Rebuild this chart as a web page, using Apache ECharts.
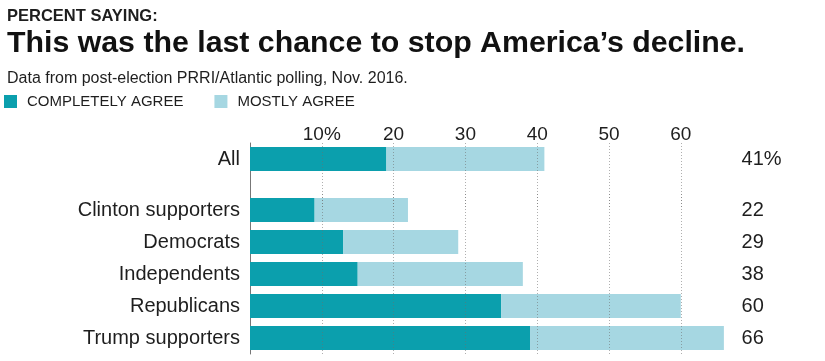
<!DOCTYPE html>
<html>
<head>
<meta charset="utf-8">
<style>
  html, body { margin: 0; padding: 0; background: #fff; }
  #chart { width: 825px; height: 361px; }
</style>
<script src="https://cdn.jsdelivr.net/npm/echarts@6/dist/echarts.min.js"></script>
</head>
<body>
<div id="chart"></div>
<script>
// ---- data ----
const categories = ['All', 'Clinton supporters', 'Democrats', 'Independents', 'Republicans', 'Trump supporters'];
const completelyAgree = [19, 9, 13, 15, 35, 39];
const mostlyAgree = [22, 13, 16, 23, 25, 27];
const tickLabels = { 10: '10%', 20: '20', 30: '30', 40: '40', 50: '50', 60: '60' };
const seriesNames = ['COMPLETELY AGREE', 'MOSTLY AGREE'];

const totals = completelyAgree.map((v, i) => v + mostlyAgree[i]);
const totalLabels = totals.map((v, i) => i === 0 ? v + '%' : String(v));

const FONT = '"Liberation Sans", Arial, sans-serif';
const DARK = '#0b9fad';
const LIGHT = '#a6d7e2';
const TEXT = '#1e1e1e';

const chart = echarts.init(document.getElementById('chart'), null, { renderer: 'canvas' });

const gridLineStyle = { type: [1, 2], color: 'rgba(110,110,110,0.55)', width: 1 };

const xAxisBase = {
  type: 'value', min: 0, max: 70, interval: 10,
  axisLine: { show: false }, axisTick: { show: false },
  splitLine: { show: true, showMinLine: false, showMaxLine: false, lineStyle: gridLineStyle },
  z: 3
};

const option = {
  backgroundColor: '#fff',
  animation: false,
  textStyle: { fontFamily: FONT },
  title: [
    { text: 'PERCENT SAYING:', left: 2, top: 3,
      textStyle: { fontFamily: FONT, fontSize: 16.5, fontWeight: 'bold', color: TEXT } },
    { text: 'This was the last chance to stop America\u2019s decline.', left: 2, top: 24,
      textStyle: { fontFamily: FONT, fontSize: 30.3, fontWeight: 'bold', color: '#111' } },
    { text: 'Data from post-election PRRI/Atlantic polling, Nov. 2016.', left: 2, top: 66,
      textStyle: { fontFamily: FONT, fontSize: 16, fontWeight: 'normal', color: TEXT } }
  ],
  legend: {
    left: 4, top: 94, padding: 0,
    itemWidth: 13, itemHeight: 13, itemGap: 31,
    icon: 'rect',
    data: seriesNames,
    textStyle: { fontFamily: FONT, fontSize: 15, color: TEXT, padding: [0, 0, 0, 5] },
    selectedMode: false
  },
  grid: [
    { left: 250, top: 143, width: 502.6, height: 64 },
    { left: 250, top: 194, width: 502.6, height: 160 }
  ],
  xAxis: [
    Object.assign({}, xAxisBase, {
      gridIndex: 0, position: 'top',
      axisLabel: {
        show: true, margin: -1, fontSize: 19, color: TEXT, fontFamily: FONT,
        formatter: v => tickLabels[v] || ''
      }
    }),
    Object.assign({}, xAxisBase, { gridIndex: 1, axisLabel: { show: false } })
  ],
  yAxis: [
    { type: 'category', gridIndex: 0, inverse: true, data: [categories[0], ''],
      axisLine: { show: true, lineStyle: { color: '#777', width: 1 } },
      axisTick: { show: false },
      axisLabel: { fontSize: 20, color: TEXT, margin: 10, fontFamily: FONT } },
    { type: 'category', gridIndex: 1, inverse: true, data: categories.slice(1),
      axisLine: { show: true, lineStyle: { color: '#777', width: 1 } },
      axisTick: { show: false },
      axisLabel: { fontSize: 20, color: TEXT, margin: 10, fontFamily: FONT } },
    { type: 'category', gridIndex: 0, inverse: true, position: 'right', data: [totalLabels[0], ''],
      axisLine: { show: false }, axisTick: { show: false },
      axisLabel: { fontSize: 20, color: TEXT, margin: -11, align: 'left', fontFamily: FONT } },
    { type: 'category', gridIndex: 1, inverse: true, position: 'right', data: totalLabels.slice(1),
      axisLine: { show: false }, axisTick: { show: false },
      axisLabel: { fontSize: 20, color: TEXT, margin: -11, align: 'left', fontFamily: FONT } }
  ],
  series: [
    { name: seriesNames[0], type: 'bar', stack: 'top', xAxisIndex: 0, yAxisIndex: 0,
      barWidth: 24, itemStyle: { color: DARK }, data: [completelyAgree[0], '-'] },
    { name: seriesNames[1], type: 'bar', stack: 'top', xAxisIndex: 0, yAxisIndex: 0,
      barWidth: 24, itemStyle: { color: LIGHT }, data: [mostlyAgree[0], '-'] },
    { name: seriesNames[0], type: 'bar', stack: 'bottom', xAxisIndex: 1, yAxisIndex: 1,
      barWidth: 24, itemStyle: { color: DARK }, data: completelyAgree.slice(1) },
    { name: seriesNames[1], type: 'bar', stack: 'bottom', xAxisIndex: 1, yAxisIndex: 1,
      barWidth: 24, itemStyle: { color: LIGHT }, data: mostlyAgree.slice(1) }
  ]
};

chart.setOption(option);
</script>
</body>
</html>
